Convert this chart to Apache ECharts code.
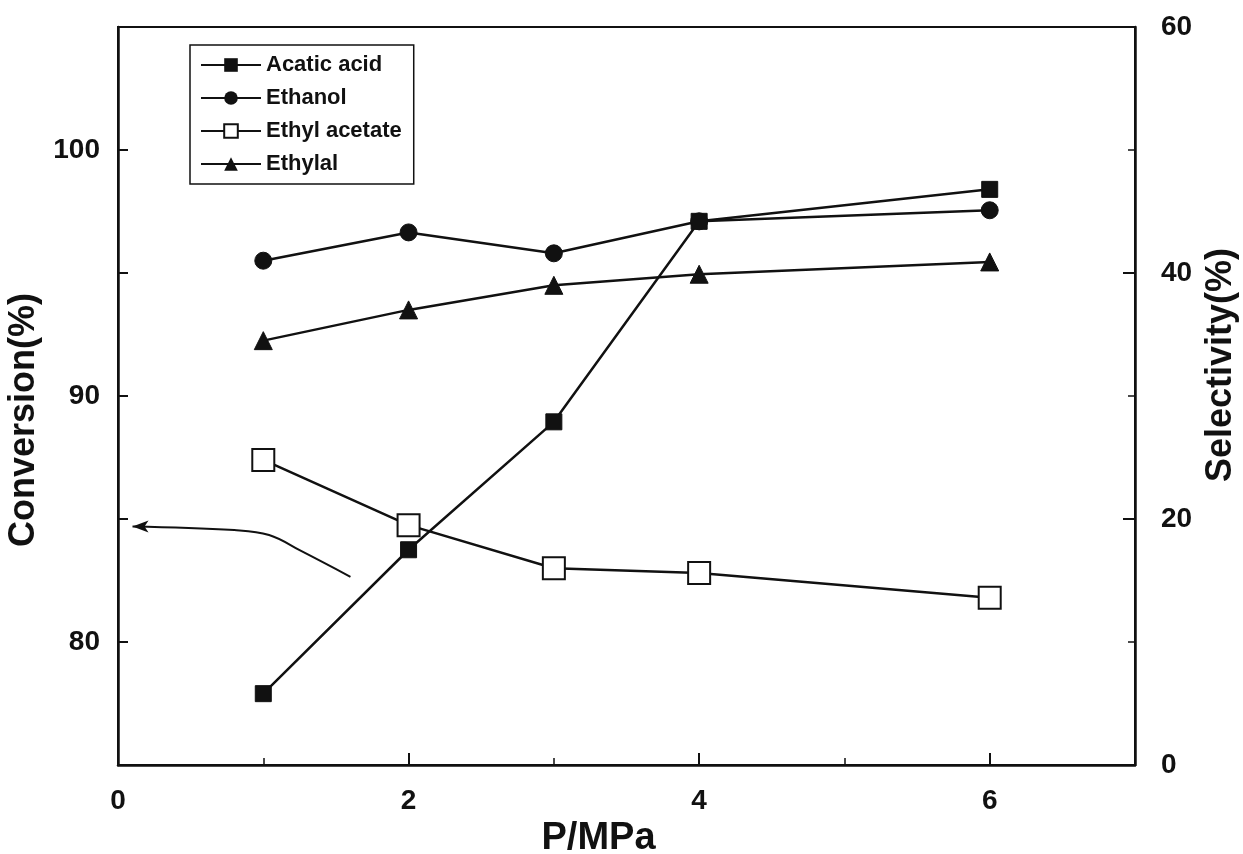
<!DOCTYPE html>
<html>
<head>
<meta charset="utf-8">
<script src="https://cdn.jsdelivr.net/npm/echarts@6/dist/echarts.min.js"></script>
<style>
  html, body { margin: 0; padding: 0; background: #fff; }
  #chart { width: 1243px; height: 854px; }
</style>
</head>
<body>
<div id="chart"></div>
<script>
// ---- data ----
const pressures = [1, 2, 3, 4, 6];                       // P/MPa
const aceticAcid = [77.9, 83.75, 88.95, 97.1, 98.4];      // conversion, left axis
const ethanol = [95.5, 96.65, 95.8, 97.1, 97.55];         // conversion, left axis
const ethylAcetate = [24.8, 19.5, 16.0, 15.6, 13.6];      // selectivity, right axis
const ethylal = [34.5, 37.0, 39.0, 39.9, 40.9];           // selectivity, right axis
const seriesNames = ['Acatic acid', 'Ethanol', 'Ethyl acetate', 'Ethylal'];
// stray pen stroke visible in the scan (left axis units)
const strayX = [0.1, 0.8, 1.04, 1.26, 1.6];
const strayY = [84.7, 84.55, 84.35, 83.7, 82.65];
const xTickLabels = ['0', '2', '4', '6'];
const leftTickLabels = ['80', '90', '100'];
const rightTickLabels = ['0', '20', '40', '60'];

const zip = (xs, ys) => xs.map((x, i) => [x, ys[i]]);
const FONT = 'Liberation Sans, Arial, sans-serif';
const INK = '#111';

const chart = echarts.init(document.getElementById('chart'), null, { renderer: 'canvas' });

const lineStyle = { color: INK, width: 2.5 };
const tickFont = { fontFamily: FONT, fontSize: 28, fontWeight: 'bold', color: INK };

const option = {
  backgroundColor: '#fff',
  animation: false,
  textStyle: { fontFamily: FONT, color: INK },
  grid: {
    left: 118, right: 108, top: 27, bottom: 89,
    show: true, borderColor: INK, borderWidth: 2,
    outerBoundsMode: 'none'
  },
  legend: {
    data: seriesNames,
    orient: 'vertical',
    left: 190, top: 45,
    itemWidth: 60, itemHeight: 17, itemGap: 11,
    padding: [9, 12, 9, 10],
    borderColor: INK, borderWidth: 1.5,
    textStyle: { fontFamily: FONT, fontSize: 22, fontWeight: 'bold', color: INK }
  },
  xAxis: {
    type: 'value', min: 0, max: 7, interval: 2,
    name: 'P/MPa', nameLocation: 'middle', nameGap: 40,
    nameTextStyle: { fontFamily: FONT, fontSize: 38, fontWeight: 'bold', color: INK, padding: [0, 56, 0, 0] },
    axisLine: { show: true, lineStyle: { color: INK, width: 2.5 } },
    axisTick: { show: true, inside: true, length: 12, lineStyle: { color: INK, width: 2 } },
    minorTick: { show: true, splitNumber: 2, length: 7, lineStyle: { color: INK, width: 1.5 } },
    splitLine: { show: false },
    axisLabel: Object.assign({}, tickFont, {
      margin: 22,
      showMaxLabel: false,
      formatter: v => (xTickLabels.includes(String(v)) ? String(v) : '')
    })
  },
  yAxis: [
    {
      type: 'value', min: 75, max: 105, interval: 5, position: 'left',
      name: 'Conversion(%)', nameLocation: 'middle', nameGap: 66, nameRotate: 90,
      nameTextStyle: { fontFamily: FONT, fontSize: 36, fontWeight: 'bold', color: INK, padding: [0, 48, 0, 0] },
      axisLine: { show: true, lineStyle: { color: INK, width: 2.5 } },
      axisTick: { show: true, inside: true, length: 10, lineStyle: { color: INK, width: 2 } },
      splitLine: { show: false },
      axisLabel: Object.assign({}, tickFont, {
        margin: 18,
        formatter: v => (leftTickLabels.includes(String(v)) ? String(v) : '')
      })
    },
    {
      type: 'value', min: 0, max: 60, interval: 20, position: 'right',
      name: 'Selectivity(%)', nameLocation: 'middle', nameGap: 66, nameRotate: 90,
      nameTextStyle: { fontFamily: FONT, fontSize: 36, fontWeight: 'bold', color: INK, padding: [0, 0, 0, 62] },
      axisLine: { show: true, lineStyle: { color: INK, width: 2.5 } },
      axisTick: { show: true, inside: true, length: 12, lineStyle: { color: INK, width: 2 } },
      minorTick: { show: true, splitNumber: 2, length: 7, lineStyle: { color: INK, width: 1.5 } },
      splitLine: { show: false },
      axisLabel: Object.assign({}, tickFont, {
        margin: 26,
        formatter: v => (rightTickLabels.includes(String(v)) ? String(v) : '')
      })
    }
  ],
  series: [
    {
      name: seriesNames[0], type: 'line', yAxisIndex: 0,
      data: zip(pressures, aceticAcid),
      symbol: 'rect', symbolSize: 16,
      itemStyle: { color: INK, borderColor: INK },
      lineStyle: lineStyle, z: 3
    },
    {
      name: seriesNames[1], type: 'line', yAxisIndex: 0,
      data: zip(pressures, ethanol),
      symbol: 'circle', symbolSize: 17,
      itemStyle: { color: INK, borderColor: INK },
      lineStyle: lineStyle, z: 3
    },
    {
      name: seriesNames[2], type: 'line', yAxisIndex: 1,
      data: zip(pressures, ethylAcetate),
      symbol: 'rect', symbolSize: 22,
      itemStyle: { color: '#fff', borderColor: INK, borderWidth: 2 },
      lineStyle: lineStyle, z: 4
    },
    {
      name: seriesNames[3], type: 'line', yAxisIndex: 1,
      data: zip(pressures, ethylal),
      symbol: 'triangle', symbolSize: 18,
      itemStyle: { color: INK, borderColor: INK },
      lineStyle: lineStyle, z: 3
    },
    {
      name: 'stray', type: 'line', yAxisIndex: 0, smooth: 0.4,
      data: zip(strayX, strayY).map((p, i) => i === 0
        ? { value: p, symbol: 'arrow', symbolSize: [9, 16], symbolRotate: 90 }
        : { value: p, symbol: 'none' }),
      showSymbol: true,
      itemStyle: { color: INK },
      lineStyle: { color: INK, width: 2 },
      silent: true, z: 2
    }
  ]
};

chart.setOption(option);
</script>
</body>
</html>
